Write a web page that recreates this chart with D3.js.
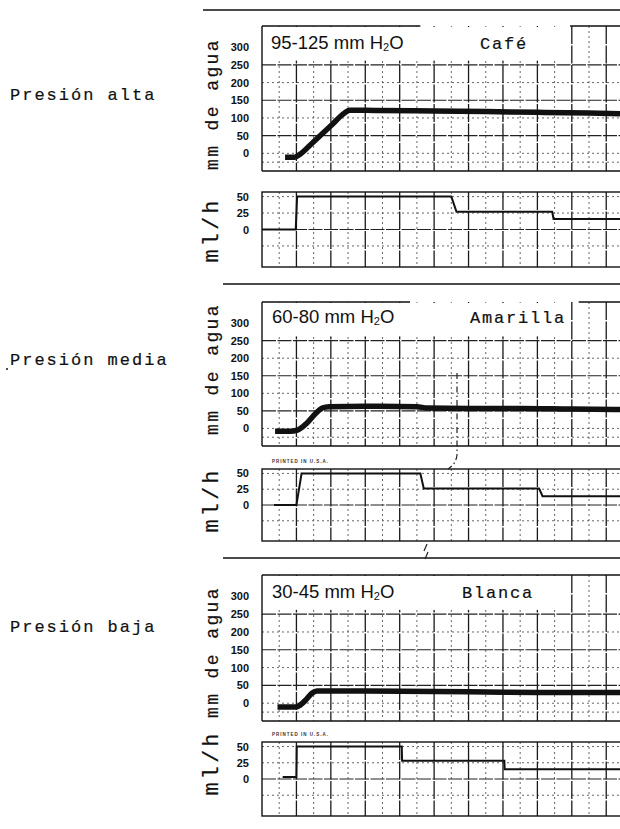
<!DOCTYPE html>
<html><head><meta charset="utf-8">
<script src="https://cdn.jsdelivr.net/npm/d3@7"></script>
<style>
html,body{margin:0;padding:0;background:#fff;}
svg{display:block;}
</style></head>
<body>
<script>
// ---- data (x in chart-paper divisions, y in mm H2O / ml/h) ----
const panelNames = ["Presión alta", "Presión media", "Presión baja"];
const pressureRanges = ["95-125", "60-80", "30-45"];
const colorNames = ["Café", "Amarilla", "Blanca"];
const pressureTicks = [0, 50, 100, 150, 200, 250, 300];
const flowTicks = [0, 25, 50];

const pressureAlta = [[0.67,-11],[0.95,-11],[1.1,-3],[1.5,33],[2.0,78],[2.4,114],[2.55,122],[3.3,121],[5,120],[6.5,118],[8,116],[9.5,114],[10.4,112]];
const pressureMedia = [[0.38,-8],[0.8,-8],[1.05,-4],[1.3,15],[1.55,42],[1.75,58],[1.95,62],[3,63],[4.5,62],[4.8,58],[6,57],[7.5,57],[9,55],[10.4,54]];
const pressureBaja = [[0.45,-11],[1.0,-11],[1.1,-6],[1.3,12],[1.45,28],[1.6,34],[3,34],[5,33],[7,31],[9,30],[10.4,30]];

const flowAlta = [[0,0],[0.98,0],[1.02,50],[5.5,50],[5.65,27],[8.43,27],[8.47,16],[10.4,16]];
const flowMedia = [[0.35,0],[1.0,0],[1.15,50],[4.6,50],[4.7,26],[8.05,26],[8.15,14],[10.4,14]];
const flowBaja = [[0.6,3],[1.0,3],[1.01,50],[4.06,50],[4.07,28],[7.04,28],[7.05,15],[10.4,15]];

const pressureSeries = [pressureAlta, pressureMedia, pressureBaja];
const flowSeries = [flowAlta, flowMedia, flowBaja];

// ---- layout ----
const W = 620, H = 829;
const mono = "'Liberation Mono','Courier New',monospace";
const sans = "'Liberation Sans',Arial,sans-serif";
const layout = [
  {labelY:100, sepY:10, sepX:203, pTop:26, pBot:171, fTop:192, fBot:267, titleY:49, colorX:480, rangeX:271, titleCy:104, flowCy:230, topBorder:[[0,4.6],[8.95,10.4]], printed:false},
  {labelY:365, sepY:284, sepX:223, pTop:302, pBot:446, fTop:469, fBot:541, titleY:323, colorX:470, rangeX:272, titleCy:369, flowCy:500, topBorder:[[0,4.3],[9.2,10.4]], printed:true},
  {labelY:632, sepY:558, sepX:223, pTop:575, pBot:721, fTop:742, fBot:816, titleY:598, colorX:462, rangeX:272, titleCy:652, flowCy:763, topBorder:[[0,10.4]], printed:true}
];

const svg = d3.select("body").append("svg").attr("width", W).attr("height", H);
const x = d3.scaleLinear().domain([0, 10.4]).range([262, 620]);
const majorX = d3.range(1, 11);
const minorX = d3.range(0.5, 10.5, 1);

function typewriter(sel, size, ls) {
  return sel.attr("font-family", mono).attr("font-size", size).attr("letter-spacing", ls)
    .attr("fill", "#111").attr("stroke", "#111").attr("stroke-width", 0.2);
}

layout.forEach((L, i) => {
  const g = svg.append("g");
  const yP = d3.scaleLinear().domain([-50, 360]).range([L.pBot, L.pTop]);
  const yF = d3.scaleLinear().domain([-57, 57]).range([L.fBot, L.fTop]);

  // separator
  g.append("line").attr("x1", L.sepX).attr("x2", W).attr("y1", L.sepY).attr("y2", L.sepY)
    .attr("stroke", "#111").attr("stroke-width", 1.6);

  // left label
  typewriter(g.append("text").attr("x", 10).attr("y", L.labelY).text(panelNames[i]), 17, 2);

  // ---------- grids ----------
  function grid(yS, yTop, yBot, solidH, dotH) {
    const gg = g.append("g");
    gg.selectAll(".vmin").data(minorX).join("line")
      .attr("x1", d => x(d)).attr("x2", d => x(d)).attr("y1", yTop).attr("y2", yBot)
      .attr("stroke", "#555").attr("stroke-width", 0.9).attr("stroke-dasharray", "2,3");
    gg.selectAll(".hdot").data(dotH).join("line")
      .attr("x1", x(0)).attr("x2", W).attr("y1", d => yS(d)).attr("y2", d => yS(d))
      .attr("stroke", "#555").attr("stroke-width", 0.9).attr("stroke-dasharray", "2,3");
    gg.selectAll(".hsol").data(solidH).join("line")
      .attr("x1", x(0)).attr("x2", W).attr("y1", d => yS(d)).attr("y2", d => yS(d))
      .attr("stroke", "#222").attr("stroke-width", 1.1).attr("stroke-dasharray", "14,1.5");
    gg.selectAll(".vmaj").data(majorX).join("line")
      .attr("x1", d => x(d)).attr("x2", d => x(d)).attr("y1", yTop).attr("y2", yBot)
      .attr("stroke", "#1a1a1a").attr("stroke-width", 1.3).attr("stroke-dasharray", "18,1.5");
    return gg;
  }

  // pressure box
  grid(yP, L.pTop, L.pBot, [50, 150, 250], [-25, 0, 100, 200]);
  // white title strip
  g.append("rect").attr("x", x(0) + 1).attr("y", L.pTop + 1)
    .attr("width", x(8.95) - x(0) - 2).attr("height", yP(262) - L.pTop - 1).attr("fill", "#fff");
  // borders
  g.append("line").attr("x1", x(0)).attr("x2", x(0)).attr("y1", L.pTop).attr("y2", L.pBot)
    .attr("stroke", "#111").attr("stroke-width", 1.4);
  g.append("line").attr("x1", x(0)).attr("x2", W).attr("y1", L.pBot).attr("y2", L.pBot)
    .attr("stroke", "#111").attr("stroke-width", 1.6);
  L.topBorder.forEach(s => {
    g.append("line").attr("x1", x(s[0])).attr("x2", Math.min(W, x(s[1]))).attr("y1", L.pTop).attr("y2", L.pTop)
      .attr("stroke", "#111").attr("stroke-width", 1.4);
  });

  // flow box
  grid(yF, L.fTop, L.fBot, [0], [-25, 25, 50]);
  g.append("rect").attr("x", x(0)).attr("y", L.fTop).attr("width", W - x(0) + 2).attr("height", L.fBot - L.fTop)
    .attr("fill", "none").attr("stroke", "#111").attr("stroke-width", 1.4);

  // title strip text
  const tr = g.append("text").attr("x", L.rangeX).attr("y", L.titleY)
    .attr("font-family", sans).attr("font-size", 18.5).attr("fill", "#111");
  tr.append("tspan").text(pressureRanges[i] + " mm H");
  tr.append("tspan").attr("font-size", 11).attr("dy", 2).text("2");
  tr.append("tspan").attr("dy", -2).text("O");
  typewriter(g.append("text").attr("x", L.colorX).attr("y", L.titleY).text(colorNames[i]), 17, 1.8);

  // axes
  const axP = g.append("g").attr("transform", "translate(252,0)")
    .call(d3.axisLeft(yP).tickValues(pressureTicks).tickSize(0).tickPadding(3));
  const axF = g.append("g").attr("transform", "translate(252,0)")
    .call(d3.axisLeft(yF).tickValues(flowTicks).tickSize(0).tickPadding(3));
  [axP, axF].forEach(a => {
    a.select(".domain").remove();
    a.selectAll("text").attr("font-family", sans).attr("font-weight", "bold")
      .attr("font-size", 11).attr("fill", "#111");
  });

  // axis titles
  typewriter(g.append("text").attr("transform", `translate(218,${L.titleCy}) rotate(-90)`)
    .attr("text-anchor", "middle").text("mm de agua"), 18, 2.4);
  typewriter(g.append("text").attr("transform", `translate(218,${L.flowCy}) rotate(-90)`)
    .attr("text-anchor", "middle").text("ml/h"), 22, 3);

  if (L.printed) {
    g.append("text").attr("x", 272).attr("y", L.fTop - 6).text("PRINTED IN U.S.A.")
      .attr("font-family", sans).attr("font-weight", "bold").attr("font-size", 4.5)
      .attr("letter-spacing", 1).attr("fill", "#333");
  }

  // traces
  const line = (yS) => d3.line().x(d => x(d[0])).y(d => yS(d[1])).curve(d3.curveMonotoneX);
  g.append("path").datum(pressureSeries[i]).attr("d", line(yP))
    .attr("fill", "none").attr("stroke", "#111").attr("stroke-width", 5.5).attr("stroke-linejoin", "round");
  g.append("path").datum(flowSeries[i]).attr("d", d3.line().x(d => x(d[0])).y(d => yF(d[1])))
    .attr("fill", "none").attr("stroke", "#111").attr("stroke-width", 2);
});

// stray recorder marks (dash-dot connector)
svg.append("path").attr("d", "M457,373 L457,455 Q456,464 448,469")
  .attr("fill", "none").attr("stroke", "#222").attr("stroke-width", 1.2).attr("stroke-dasharray", "6,3,1.5,3");
svg.append("path").attr("d", "M427,544 L424,551 M428,552 L425,559")
  .attr("fill", "none").attr("stroke", "#222").attr("stroke-width", 1.2);
svg.append("circle").attr("cx", 7).attr("cy", 369).attr("r", 1).attr("fill", "#111");
</script>
</body></html>
